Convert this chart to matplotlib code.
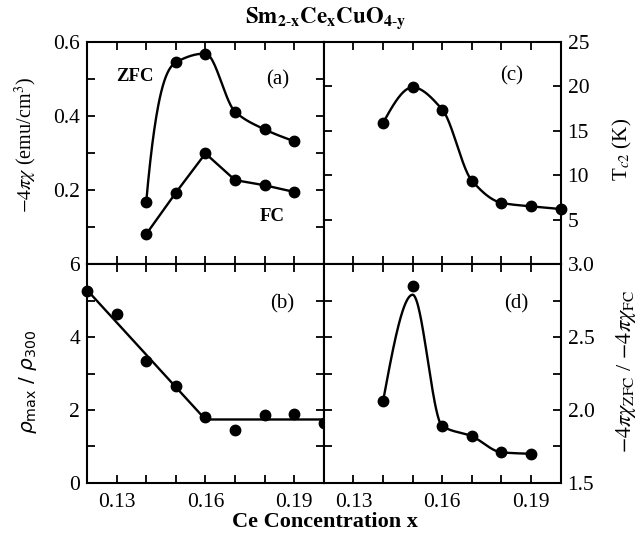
import matplotlib
matplotlib.use('Agg')
import matplotlib.pyplot as plt
from matplotlib.ticker import MultipleLocator, FixedLocator, FormatStrFormatter
import numpy as np

# ── Data ──────────────────────────────────────────────────────────────────────
x_a = [0.14, 0.15, 0.16, 0.17, 0.18, 0.19]
zfc = [0.168, 0.545, 0.569, 0.412, 0.364, 0.332]
fc = [0.081, 0.193, 0.299, 0.227, 0.213, 0.195]

x_b = [0.12, 0.13, 0.14, 0.15, 0.16, 0.17, 0.18, 0.19, 0.20]
rho_ratio = [5.25, 4.62, 3.35, 2.67, 1.81, 1.46, 1.87, 1.90, 1.63]
fit_b_x = [0.12, 0.16, 0.20]
fit_b_y = [5.29, 1.74, 1.74]

x_c = [0.14, 0.15, 0.16, 0.17, 0.18, 0.19, 0.20]
tc2 = [15.9, 19.9, 17.4, 9.4, 6.9, 6.5, 6.2]

x_d = [0.14, 0.15, 0.16, 0.17, 0.18, 0.19]
chi_ratio = [2.06, 2.85, 1.89, 1.82, 1.71, 1.70]
chi_ratio_curve = [2.06, 2.79, 1.89, 1.82, 1.71, 1.70]

x_ticks = [0.13, 0.16, 0.19]

plt.rcParams['font.family'] = 'serif'
plt.rcParams['font.serif'] = ['Liberation Serif', 'DejaVu Serif']
plt.rcParams['mathtext.fontset'] = 'stix'


def pchip(x, y, start_slope=None, n=60):
    # monotone cubic Hermite, drawn the way the hand-smoothed curves look
    x = np.asarray(x, float)
    y = np.asarray(y, float)
    h = np.diff(x)
    s = np.diff(y) / h
    m = np.zeros_like(y)
    for i in range(1, len(y) - 1):
        if s[i - 1] * s[i] > 0:
            m[i] = 2.0 / (1.0 / s[i - 1] + 1.0 / s[i])
    m[0] = (3 * s[0] - m[1]) / 2 if start_slope is None else start_slope
    m[-1] = (3 * s[-1] - m[-2]) / 2
    xs, ys = [], []
    for i in range(len(h)):
        t = np.linspace(0, 1, n)
        h00 = 2 * t**3 - 3 * t**2 + 1
        h10 = t**3 - 2 * t**2 + t
        h01 = -2 * t**3 + 3 * t**2
        h11 = t**3 - t**2
        xs.append(x[i] + t * h[i])
        ys.append(h00 * y[i] + h10 * h[i] * m[i] + h01 * y[i + 1] + h11 * h[i] * m[i + 1])
    return np.concatenate(xs), np.concatenate(ys)


fig = plt.figure(figsize=(6.4, 5.39), dpi=100)
L, M, W = 0.136, 0.506, 0.370
ax_a = fig.add_axes([L, 0.510, W, 0.412])
ax_c = fig.add_axes([M, 0.510, W, 0.412])
ax_b = fig.add_axes([L, 0.104, W, 0.406])
ax_d = fig.add_axes([M, 0.104, W, 0.406])

LW = 1.7
MS = 7.5
dot = dict(marker='o', ls='none', color='black', ms=MS, clip_on=False, zorder=5)

for ax in (ax_a, ax_b, ax_c, ax_d):
    ax.set_xlim(0.12, 0.20)
    ax.xaxis.set_major_locator(FixedLocator(x_ticks))
    ax.xaxis.set_minor_locator(MultipleLocator(0.01))
    ax.tick_params(which='both', direction='in', top=True, bottom=True,
                   left=True, right=True, length=6, width=1.3,
                   labelsize=15.5, pad=5)
    ax.tick_params(axis='x', pad=7)
    for sp in ax.spines.values():
        sp.set_linewidth(1.5)

for ax in (ax_a, ax_c):
    ax.tick_params(labelbottom=False)

# ── (a) susceptibility ───────────────────────────────────────────────────────
cx, cy = pchip(x_a, zfc, start_slope=90)
ax_a.plot(cx, cy, color='black', lw=LW)
ax_a.plot(x_a, zfc, **dot)
ax_a.plot(x_a, fc, color='black', lw=LW)
ax_a.plot(x_a, fc, **dot)
ax_a.set_ylim(0, 0.6)
ax_a.yaxis.set_major_locator(FixedLocator([0.2, 0.4, 0.6]))
ax_a.yaxis.set_minor_locator(MultipleLocator(0.1))
ax_a.text(0.806, 0.829, "(a)", transform=ax_a.transAxes, ha='center', va='center', fontsize=15)
ax_a.text(0.203, 0.847, "ZFC", transform=ax_a.transAxes, ha='center', va='center',
          fontsize=13.5, fontweight='bold')
ax_a.text(0.781, 0.216, "FC", transform=ax_a.transAxes, ha='center', va='center',
          fontsize=13.5, fontweight='bold')

# ── (b) resistivity ratio ────────────────────────────────────────────────────
ax_b.plot(fit_b_x, fit_b_y, color='black', lw=LW)
ax_b.plot(x_b, rho_ratio, **dot)
ax_b.set_ylim(0, 6)
ax_b.yaxis.set_major_locator(FixedLocator([0, 2, 4, 6]))
ax_b.yaxis.set_minor_locator(MultipleLocator(1))
ax_b.text(0.823, 0.818, "(b)", transform=ax_b.transAxes, ha='center', va='center', fontsize=15)

# ── (c) Tc2 ──────────────────────────────────────────────────────────────────
cx, cy = pchip(x_c, tc2)
ax_c.plot(cx, cy, color='black', lw=LW, clip_on=False)
ax_c.plot(x_c, tc2, **dot)
ax_c.set_ylim(0, 25)
ax_c.yaxis.set_major_locator(FixedLocator([5, 10, 15, 20, 25]))
ax_c.yaxis.set_minor_locator(MultipleLocator(5))
ax_c.tick_params(labelleft=False, labelright=True)
ax_c.text(0.793, 0.847, "(c)", transform=ax_c.transAxes, ha='center', va='center', fontsize=15)

# ── (d) ZFC / FC ratio ───────────────────────────────────────────────────────
cx, cy = pchip(x_d, chi_ratio_curve)
ax_d.plot(cx, cy, color='black', lw=LW)
ax_d.plot(x_d, chi_ratio, **dot)
ax_d.set_ylim(1.5, 3.0)
ax_d.yaxis.set_major_locator(FixedLocator([1.5, 2.0, 2.5, 3.0]))
ax_d.yaxis.set_major_formatter(FormatStrFormatter('%.1f'))
ax_d.yaxis.set_minor_locator(MultipleLocator(0.25))
ax_d.tick_params(labelleft=False, labelright=True)
ax_d.text(0.814, 0.818, "(d)", transform=ax_d.transAxes, ha='center', va='center', fontsize=15)

# ── Axis titles ──────────────────────────────────────────────────────────────
fig.text(0.508, 0.966, r"$\mathbf{Sm_{2\text{-}x}Ce_xCuO_{4\text{-}y}}$", ha='center', va='center',
         fontsize=16.5)
fig.text(0.508, 0.031, "Ce Concentration x", ha='center', va='center', fontsize=16,
         fontweight='bold')
fig.text(0.040, 0.731, r"$-4\pi\chi$ (emu/cm$^3$)", rotation=90, ha='center', va='center',
         fontsize=14.5)
fig.text(0.043, 0.292, r"$\rho_{\mathrm{max}}\ /\ \rho_{300}$", rotation=90, ha='center',
         va='center', fontsize=14.5, math_fontfamily='dejavusans')
fig.text(0.972, 0.722, r"T$_{c2}$ (K)", rotation=90, ha='center', va='center', fontsize=15)
fig.text(0.978, 0.310, r"$-4\pi\chi_{\mathrm{ZFC}}$ / $-4\pi\chi_{\mathrm{FC}}$", rotation=90,
         ha='center', va='center', fontsize=16)

fig.savefig("out.png", dpi=100, facecolor='white')
plt.close(fig)
